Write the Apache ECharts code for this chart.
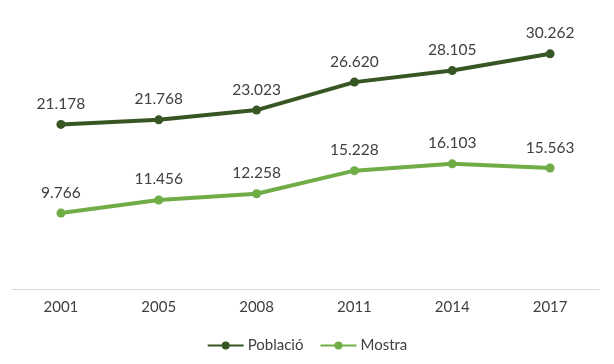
<!DOCTYPE html>
<html><head><meta charset="utf-8">
<script src="https://cdn.jsdelivr.net/npm/echarts@6/dist/echarts.min.js"></script>
<style>html,body{margin:0;padding:0;background:#fff}#c{width:614px;height:364px}</style>
</head><body><div id="c"></div>
<script>
const categories = ['2001','2005','2008','2011','2014','2017'];
const poblacio = [21.178, 21.768, 23.023, 26.620, 28.105, 30.262];
const mostra = [9.766, 11.456, 12.258, 15.228, 16.103, 15.563];
const fmt = v => v.toFixed(3);
const FF = 'Lato, "Open Sans", sans-serif';
const chart = echarts.init(document.getElementById('c'));
const lbl = {show:true, position:'top', distance:8, color:'#404040', fontSize:15.5, fontFamily:FF, formatter:p=>fmt(p.value)};
chart.setOption({
  animation:false,
  grid:{left:12,right:15,top:17,bottom:75},
  legend:{bottom:6,left:'center',itemWidth:36,itemHeight:10,itemGap:16,
    textStyle:{color:'#404040',fontSize:15,fontFamily:FF,padding:[0,0,0,-1]},
    data:['Població','Mostra']},
  xAxis:{type:'category',data:categories,boundaryGap:true,
    axisLine:{lineStyle:{color:'#d9d9d9',width:1}},axisTick:{show:false},
    axisLabel:{color:'#404040',fontSize:15,margin:11,fontFamily:FF}},
  yAxis:{type:'value',min:0,max:35,show:false,splitLine:{show:false}},
  series:[
    {name:'Població',type:'line',data:poblacio,symbol:'circle',symbolSize:9,
     lineStyle:{color:'#375623',width:4},itemStyle:{color:'#375623'},label:lbl},
    {name:'Mostra',type:'line',data:mostra,symbol:'circle',symbolSize:9,
     lineStyle:{color:'#70AD47',width:4},itemStyle:{color:'#70AD47'},label:lbl}
  ]
});
</script></body></html>
